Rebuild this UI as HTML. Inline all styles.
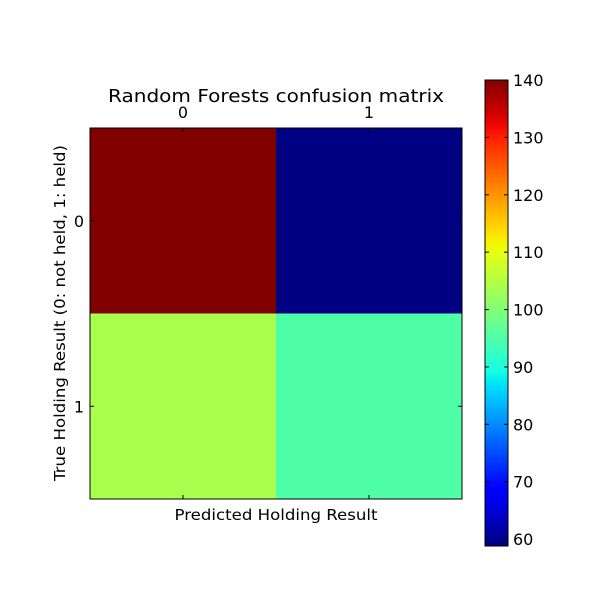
<!DOCTYPE html>
<html><head><meta charset="utf-8"><style>
body{margin:0;background:#fff;}
svg text{font-family:"DejaVu Sans","Liberation Sans",sans-serif;fill:#000;}
</style></head><body>
<svg id="chart" width="600" height="600" viewBox="0 0 600 600">
<defs><linearGradient id="jetgrad" x1="0" y1="1" x2="0" y2="0"></linearGradient></defs>
<g id="cells"></g>
<rect x="90" y="128" width="372" height="371" fill="none" stroke="#000" stroke-width="1"/>
<g id="ticks"></g>
<text x="276" y="102" font-size="18" text-anchor="middle" textLength="336" lengthAdjust="spacingAndGlyphs">Random Forests confusion matrix</text>
<text x="276" y="520" font-size="15" text-anchor="middle" textLength="203" lengthAdjust="spacingAndGlyphs">Predicted Holding Result</text>
<text transform="translate(65,313) rotate(-90)" font-size="15" text-anchor="middle" textLength="336" lengthAdjust="spacingAndGlyphs">True Holding Result (0: not held, 1: held)</text>
<rect x="485" y="80" width="23" height="466" fill="url(#jetgrad)"/>
<rect x="485" y="80" width="23" height="466" fill="none" stroke="#000"/>
<g id="cbticks"></g>
</svg>
<script>
const categories = ["0", "1"];
const matrixValues = [[140, 59], [104, 95]];
const colorbarTicks = [60, 70, 80, 90, 100, 110, 120, 130, 140];
const vmin = 58.8, vmax = 140;

const NS = "http://www.w3.org/2000/svg";
function interp(pts, t){for(let i=1;i<pts.length;i++){if(t<=pts[i][0]){const a=pts[i-1],b=pts[i];return a[1]+(b[1]-a[1])*(t-a[0])/(b[0]-a[0]);}}return pts[pts.length-1][1];}
const R=[[0,0],[0.35,0],[0.66,1],[0.89,1],[1,0.5]];
const G=[[0,0],[0.125,0],[0.375,1],[0.64,1],[0.91,0],[1,0]];
const B=[[0,0.5],[0.11,1],[0.34,1],[0.65,0],[1,0]];
function jet(t){t=Math.max(0,Math.min(1,t));return `rgb(${Math.round(255*interp(R,t))},${Math.round(255*interp(G,t))},${Math.round(255*interp(B,t))})`;}
function mk(tag,attrs,parent){const e=document.createElementNS(NS,tag);for(const k in attrs)e.setAttribute(k,attrs[k]);parent.appendChild(e);return e;}

const grad=document.getElementById('jetgrad');
for(let i=0;i<=40;i++){mk('stop',{offset:i/40,'stop-color':jet(i/40)},grad);}

const x0=90,y0=128,W=372,H=371;
const n=categories.length, cw=W/n, ch=H/n;
const xPos=i=>x0+cw*(i+0.5), yPos=i=>y0+ch*(i+0.5);
const cells=document.getElementById('cells');
matrixValues.forEach((row,r)=>row.forEach((v,c)=>{
  const e=mk('rect',{x:x0+c*cw,y:y0+r*ch,width:cw+0.5,height:ch+0.5,fill:jet((v-vmin)/(vmax-vmin))},cells);
  
  
}));
const tk=document.getElementById('ticks');
categories.forEach((lab,i)=>{
  const x=xPos(i), y=yPos(i);
  mk('line',{x1:x,y1:y0,x2:x,y2:y0+4,stroke:'#000'},tk);
  mk('line',{x1:x,y1:y0+H,x2:x,y2:y0+H-4,stroke:'#000'},tk);
  mk('line',{x1:x0,y1:y,x2:x0+4,y2:y,stroke:'#000'},tk);
  mk('line',{x1:x0+W,y1:y,x2:x0+W-4,y2:y,stroke:'#000'},tk);
  const t1=mk('text',{x:x,y:y0-10,'font-size':16,'text-anchor':'middle'},tk);t1.textContent=lab;
  
  
  const t2=mk('text',{x:x0-6,y:y+6,'font-size':16,'text-anchor':'end'},tk);t2.textContent=lab;
  
  
});
const cb=document.getElementById('cbticks');
const cy=v=>546-(v-vmin)/(vmax-vmin)*466;
colorbarTicks.forEach(v=>{
  const y=cy(v);
  mk('line',{x1:504,y1:y,x2:508,y2:y,stroke:'#000'},cb);
  mk('line',{x1:485,y1:y,x2:489,y2:y,stroke:'#000'},cb);
  const t=mk('text',{x:513,y:y+6,'font-size':16},cb);t.textContent=v;
  
  
});
</script>
</body></html>
